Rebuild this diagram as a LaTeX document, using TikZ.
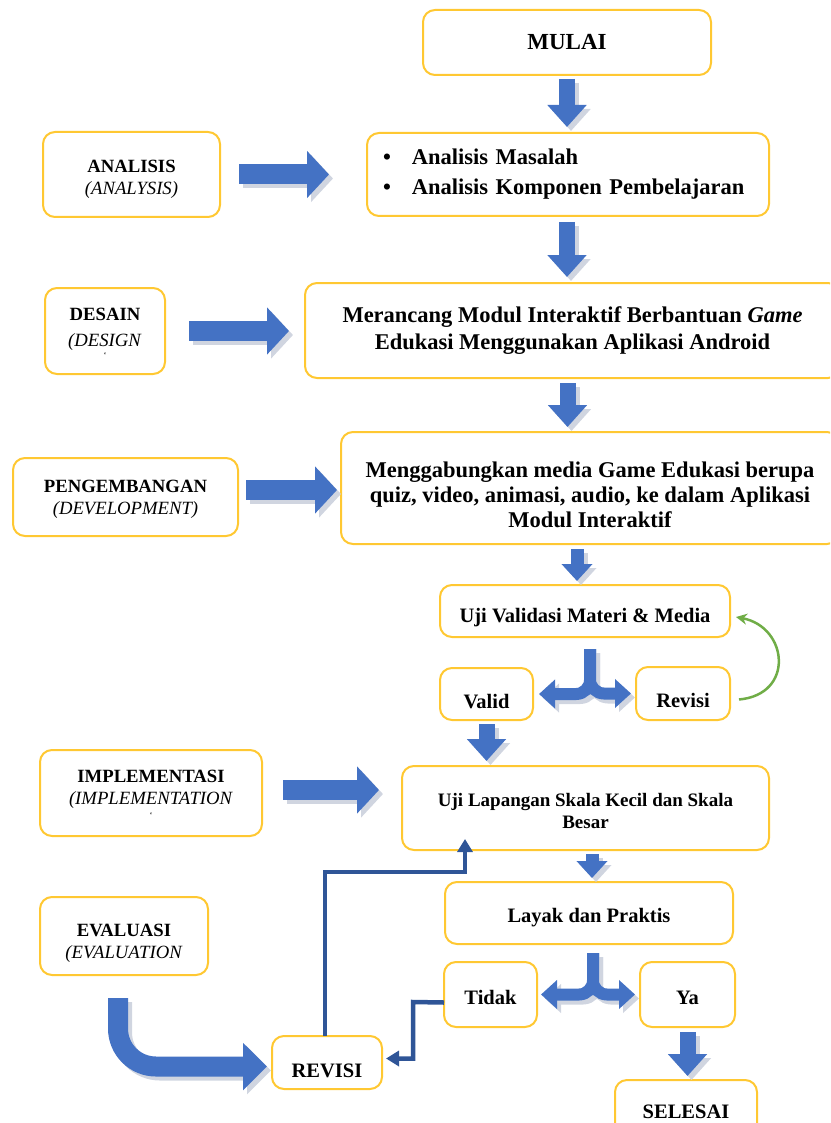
\documentclass[tikz,border=0pt]{standalone}
\usepackage{fontspec}
\setmainfont{Liberation Serif}
\usetikzlibrary{arrows.meta,calc}
\definecolor{gold}{RGB}{255,200,50}
\definecolor{ablue}{RGB}{68,114,196}
\definecolor{dkblue}{RGB}{47,85,151}
\definecolor{agreen}{RGB}{112,173,71}
\definecolor{shad}{RGB}{208,213,224}
\newcommand\mainsz{\fontsize{22.5}{27}\selectfont\bfseries}
\newcommand\midsz{\fontsize{20.5}{24}\selectfont\bfseries}
\newcommand\lblsz{\fontsize{18.7}{22}\selectfont}
\newcommand\blk[2][]{\draw[bshadow,#1] #2; \draw[barrow,#1] #2;}
\newcommand\dn[1]{\rule{0pt}{#1pt}}
\begin{document}
\begin{tikzpicture}[x=1pt,y=-1pt,
  box/.style={draw=gold, line width=2pt, rounded corners=12pt, fill=white, align=center, inner sep=0pt},
  lbl/.style={box, font=\lblsz},
  barrow/.style={draw=ablue, line width=16pt, -{Triangle[width=38pt,length=22pt]}},
  bshadow/.style={draw=shad, line width=16pt, -{Triangle[width=38pt,length=22pt]}, transform canvas={shift={(4pt,-4pt)}}},
  rarr/.style={line width=20pt, -{Triangle[width=46pt,length=22pt]}},
  small/.style={line width=13pt, -{Triangle[width=30pt,length=17pt]}},
  fork/.style={line width=12pt, rounded corners=14pt, -{Triangle[width=28pt,length=16pt]}},
  big/.style={line width=20pt, rounded corners=38pt, -{Triangle[width=46pt,length=24pt]}},
  dk/.style={draw=dkblue, line width=4.5pt, -{Triangle[width=15pt,length=13pt]}},
  gr/.style={draw=agreen, line width=2.5pt, -{Stealth[width=11pt,length=11pt]}}
]
\useasboundingbox (0,0) rectangle (830,1123);
\clip (0,0) rectangle (830,1123);

% main boxes
\node[box, minimum width=288, minimum height=65, font=\fontsize{23}{27}\selectfont\bfseries] (mulai) at (567,42.5) {MULAI};
\node[box, minimum width=402, minimum height=83, text width=370, align=left, font=\fontsize{22.5}{30}\selectfont\bfseries] (anal) at (568,174.5)
  {\textbullet\hspace{21pt}Analisis Masalah\\\textbullet\hspace{21pt}Analisis Komponen Pembelajaran};
\node[box, minimum width=535, minimum height=95, font=\mainsz] (des) at (572.5,330.5)
  {Merancang Modul Interaktif Berbantuan \textit{Game}\\Edukasi Menggunakan Aplikasi Android};
\node[box, minimum width=498, minimum height=112, font=\fontsize{22.5}{25}\selectfont\bfseries] (dev) at (590,488)
  {\dn{30}Menggabungkan media Game Edukasi berupa\\quiz, video, animasi, audio, ke dalam Aplikasi\\Modul Interaktif};
\node[box, minimum width=290, minimum height=52, font=\midsz] (ujiv) at (585,611) {\dn{28}Uji Validasi Materi \& Media};
\node[box, minimum width=93, minimum height=52, font=\midsz] (valid) at (486.5,694) {\dn{30}Valid};
\node[box, minimum width=94, minimum height=53, font=\midsz] (revisi) at (683,693.5) {\dn{28}Revisi};
\node[box, minimum width=367, minimum height=84, font=\fontsize{19}{22}\selectfont\bfseries] (lap) at (585.5,808)
  {\dn{20}Uji Lapangan Skala Kecil dan Skala\\Besar};
\node[box, minimum width=288, minimum height=62, font=\midsz] (layak) at (589,913) {\dn{24}Layak dan Praktis};
\node[box, minimum width=93, minimum height=65, font=\midsz] (tidak) at (490.5,994.5) {\dn{20}Tidak};
\node[box, minimum width=95, minimum height=65, font=\midsz] (ya) at (687.5,994.5) {\dn{20}Ya};
\node[box, minimum width=142, minimum height=64, font=\midsz] (sel) at (686,1112) {SELESAI};
\node[box, minimum width=110, minimum height=53, font=\midsz] (rev) at (327,1062.5) {\dn{30}REVISI};

% left labels
\node[lbl, minimum width=177, minimum height=85] (anl) at (131.5,174.5) {\dn{22}\textbf{ANALISIS}\\\textit{(ANALYSIS)}};
\node[lbl, minimum width=120, minimum height=86] (dsn) at (105,331) {\dn{16}\textbf{DESAIN}\\[4pt]\textit{(DESIGN}\\[-10pt]{\fontsize{9}{9}\selectfont`}};
\node[lbl, minimum width=225, minimum height=78] (peng) at (125.5,497) {\dn{16}\textbf{PENGEMBANGAN}\\\textit{(DEVELOPMENT)}};
\node[lbl, minimum width=222, minimum height=86] (impl) at (151,793) {\dn{14}\textbf{IMPLEMENTASI}\\\textit{(IMPLEMENTATION}\\[-8pt]{\fontsize{9}{9}\selectfont`}};
\node[lbl, minimum width=168, minimum height=78] (eval) at (124,936) {\dn{26}\textbf{EVALUASI}\\\textit{(EVALUATION}};

% vertical block arrows
\blk{($(mulai.south)+(0,3)$) -- ($(mulai.south |- anal.north)+(0,-5)$)}
\blk{($(anal.south)+(-1,5)$) -- ($(anal.south |- des.north)+(-1,-5)$)}
\blk{($(des.south)+(-5,4)$) -- ($(des.south |- dev.north)+(-5,-4)$)}
\blk[small]{($(ujiv.north |- dev.south)+(-8,4)$) -- ($(ujiv.north)+(-8,-3)$)}
\blk{($(valid.south)+(0,3)$) -- ($(valid.south |- lap.north)+(0,-4)$)}
\blk[small]{($(layak.north |- lap.south)+(3,3)$) -- ($(layak.north)+(3,-3)$)}
\blk{($(ya.south)+(0,4)$) -- ($(ya.south |- sel.north)+(0,-3)$)}

% horizontal block arrows
\blk[rarr]{($(anl.east)+(18,0)$) -- ($(anl.east -| anal.west)+(-37,0)$)}
\blk[rarr]{($(dsn.east)+(23,0)$) -- ($(dsn.east -| des.west)+(-15,0)$)}
\blk[rarr]{($(peng.east)+(7,-7)$) -- ($(peng.east -| dev.west)+(-3,-7)$)}
\blk[rarr]{($(impl.east)+(20,-3)$) -- ($(impl.east -| lap.west)+(-22,-3)$)}

% forks
\blk[fork]{($(ujiv.south)+(5,11)$) |- ($(valid.east)+(5,0)$)}
\blk[fork]{($(ujiv.south)+(5,11)$) |- ($(revisi.west)+(-4,0)$)}
\blk[fork]{($(layak.south)+(4,8)$) |- ($(tidak.east)+(3,0)$)}
\blk[fork]{($(layak.south)+(4,8)$) |- ($(ya.west)+(-4,0)$)}

% evaluation arrow
\blk[big]{($(eval.south)+(-6,22)$) |- ($(rev.west)+(-4,4)$)}

% dark blue connectors
\coordinate (k1) at (325,872);
\coordinate (k2) at (465,872);
\draw[dk] ($(rev.north)+(-2,1)$) -- (k1) -- (k2) -- ($(k2 |- lap.south)+(0,-12)$);
\coordinate (k3) at (413,1002);
\draw[dk] ($(tidak.west)+(1,8)$) -- (k3) |- ($(rev.east)+(3,-4)$);

% green loop
\draw[gr] ($(revisi.east)+(8,6)$) .. controls +(56,-5) and +(52,10) .. ($(ujiv.east)+(5,6)$);
\end{tikzpicture}
\end{document}
